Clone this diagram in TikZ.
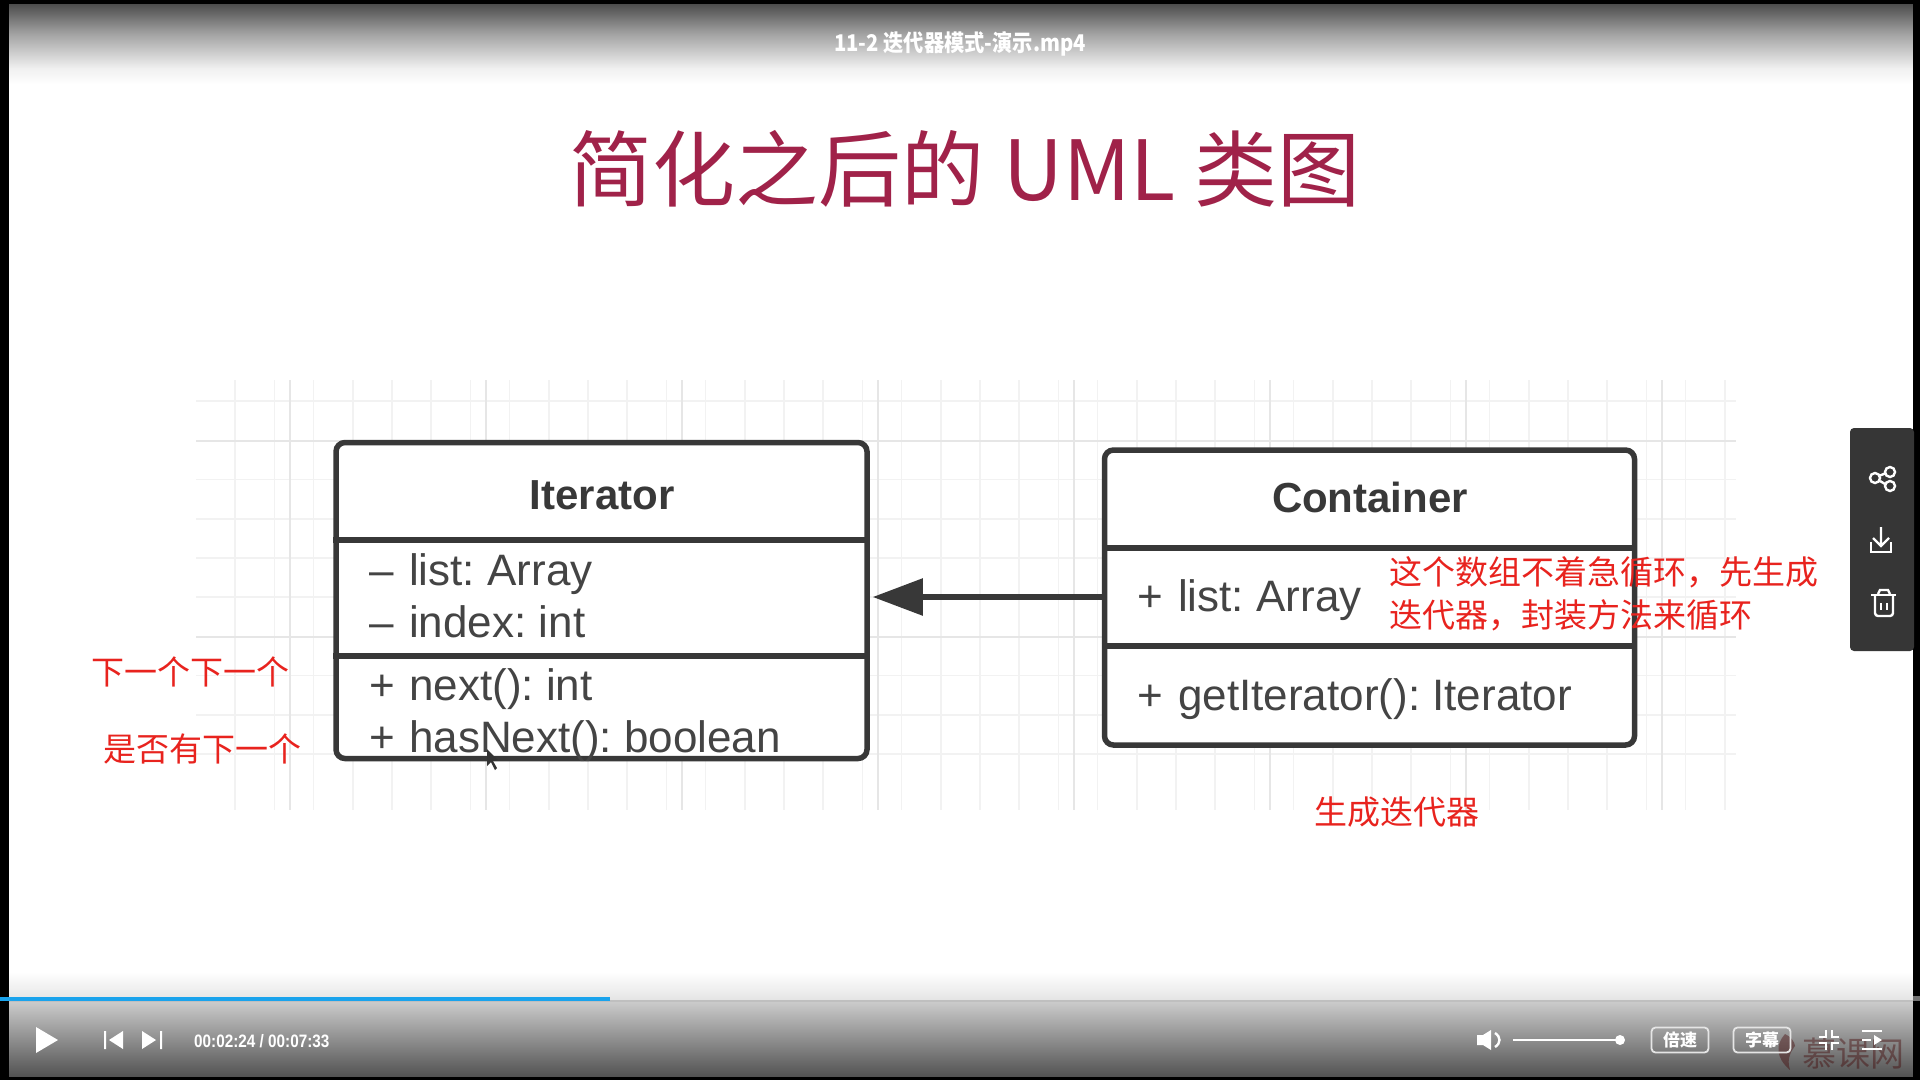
\documentclass[tikz,border=0pt]{standalone}
\usepackage{fontspec}
\usepackage{graphicx}
\usetikzlibrary{arrows.meta}
\setmainfont{Liberation Sans}
\newfontfamily\cjk{Noto Sans CJK SC}
\frenchspacing
\definecolor{titlered}{HTML}{A02249}
\definecolor{linegray}{HTML}{383838}
\definecolor{txtgray}{HTML}{444444}
\definecolor{notered}{HTML}{E8231E}
\definecolor{minorgrid}{HTML}{F2F2F2}
\definecolor{majorgrid}{HTML}{E6E6E6}
\definecolor{panel}{HTML}{363636}
\definecolor{progress}{HTML}{1AA3EC}
\tikzset{
  x=1pt,y=-1pt,
  umlbox/.style={draw=linegray,line width=5.5pt,rounded corners=9pt,fill=white,inner sep=0pt},
  divider/.style={draw=linegray,line width=5.5pt},
  member/.style={anchor=base west,inner sep=0pt,text=txtgray,font=\fontsize{44}{50}\selectfont},
  classname/.style={anchor=base,inner sep=0pt,text=linegray,font=\fontsize{42}{50}\selectfont\bfseries},
  note/.style={anchor=west,inner sep=0pt,text=notered,font=\cjk\fontsize{33}{40}\selectfont},
  ctrl/.style={anchor=center,inner sep=0pt,text=white},
  iconline/.style={draw=white,line width=2.4pt},
  iconfill/.style={fill=white,draw=none},
  pill/.style={draw=white!90!black,line width=1.8pt,rounded corners=4pt,inner sep=0pt,minimum width=57pt,minimum height=25pt,text=white,font=\cjk\fontsize{17}{20}\selectfont\bfseries},
}
\begin{document}
\begin{tikzpicture}
\useasboundingbox (0,0) rectangle (1920,1080);
\fill[white] (0,0) rectangle (1920,1080);
% player gradients
\shade[top color=black!70,bottom color=black!36] (0,4) rectangle (1920,34);
\shade[top color=black!36,bottom color=black!6] (0,34) rectangle (1920,68);
\shade[top color=black!6,bottom color=white] (0,68) rectangle (1920,84);
\shade[top color=white,bottom color=black!11] (0,972) rectangle (1920,1001);
\shade[top color=black!20,bottom color=black!68] (0,1001) rectangle (1920,1077);
\fill[black] (0,0) rectangle (1920,4);
\fill[black] (0,1077) rectangle (1920,1080);
\fill[black] (0,0) rectangle (9,1080);
\fill[black] (1913,0) rectangle (1920,1080);
\fill[black!55] (1913,996) rectangle (1920,1001);
% grid
\foreach \gx in {1,...,39}{\draw[minorgrid,line width=1.5pt] ({196+39.2*(\gx)},380) -- ({196+39.2*(\gx)},810);}
\foreach \gy in {1,...,10}{\draw[minorgrid,line width=1.5pt] (196,{362+39.2*(\gy)}) -- (1736,{362+39.2*(\gy)});}
\foreach \gx in {290,486,682,878,1074,1270,1466,1662}{\draw[majorgrid,line width=2.5pt] (\gx,380) -- (\gx,810);}
\foreach \gy in {441,637}{\draw[majorgrid,line width=2.5pt] (196,\gy) -- (1736,\gy);}
% title
\node[inner sep=0pt,text=titlered,font=\cjk\fontsize{83}{90}\selectfont] (title) at (965,169) {简化之后的 UML 类图};
\node[ctrl,font=\cjk\fontsize{23}{28}\selectfont\bfseries] (filename) at (960,44) {\scalebox{.88}[1]{11-2 迭代器模式-演示.mp4}};
% Iterator
\node[umlbox,minimum width=531pt,minimum height=316pt] (iter) at (601.5,600.5) {};
\draw[divider] (iter.west |- 0,540) -- (iter.east |- 0,540);
\draw[divider] (iter.west |- 0,656) -- (iter.east |- 0,656);
\node[classname] (itername) at (602,509) {Iterator};
\node[member] (m1s) at (369,585) {–};
\node[member] (m1) at (409,585) {list: Array};
\node[member] (m2s) at (369,637) {–};
\node[member] (m2) at (409,637) {index: int};
\node[member] (m3s) at (369,700) {+};
\node[member] (m3) at (409,700) {next(): int};
\node[member] (m4s) at (369,752) {+};
\node[member] (m4) at (409,752) {hasNext(): boolean};
% Container
\node[umlbox,minimum width=530pt,minimum height=295pt] (cont) at (1369.5,597.5) {};
\draw[divider] (cont.west |- 0,548) -- (cont.east |- 0,548);
\draw[divider] (cont.west |- 0,646) -- (cont.east |- 0,646);
\node[classname] (contname) at (1370,512) {Container};
\node[member] (c1s) at (1137,611) {+};
\node[member] (c1) at (1178,611) {list: Array};
\node[member] (c2s) at (1137,710) {+};
\node[member] (c2) at (1178,710) {getIterator(): Iterator};
% association
\draw[draw=linegray,line width=5.5pt,shorten >=3pt,-{Stealth[length=50pt,width=36pt,inset=0pt]}] (cont.west |- 0,597) -- (iter.east |- 0,597);
% cursor
\fill[black!80] (487,749) -- (487,766) -- (491,762) -- (495,770) -- (497,768) -- (493,761) -- (498,760) -- cycle;
% notes
\node[note] (n1) at (91,672) {下一个下一个};
\node[note] (n2) at (103,749) {是否有下一个};
\node[note] (n3) at (1314,812) {生成迭代器};
\node[note] (n4) at (1389,572) {这个数组不着急循环，先生成};
\node[note] (n5) at (1389,615) {迭代器，封装方法来循环};
% side panel
\fill[panel,rounded corners=4pt] (1850,428) rectangle (1914,651);
\draw[iconline] (1890,472) circle (5pt) (1875,478) circle (5pt) (1890,486) circle (5pt);
\draw[iconline] (1880,475.5) -- (1885,473.5) (1880,481) -- (1885,484);
\draw[iconline] (1881,527) -- (1881,546) (1873,538) -- (1881,546) -- (1889,538);
\draw[iconline] (1871,542) -- (1871,552) -- (1891,552) -- (1891,542);
\draw[iconline,rounded corners=3pt] (1875,596) -- (1875,616) -- (1893,616) -- (1893,596);
\draw[iconline] (1871,595) -- (1896,595);
\draw[iconline] (1878,594) -- (1880,590) -- (1888,590) -- (1890,594);
\draw[iconline] (1881,603) -- (1881,610) (1887,603) -- (1887,610);
% progress
\draw[draw=white!75!black,line width=1.5pt] (9,1001) -- (1913,1001);
\fill[progress] (0,997) rectangle (610,1001);
\fill[iconfill] (36,1027) -- (58,1040) -- (36,1053) -- cycle;
\fill[iconfill] (104,1031) rectangle (106,1049) (123,1031) -- (123,1049) -- (109,1040) -- cycle;
\fill[iconfill] (160,1031) rectangle (162,1049) (142,1031) -- (142,1049) -- (156,1040) -- cycle;
\node[ctrl,anchor=west,font=\fontsize{18}{22}\selectfont\bfseries] (time) at (194,1041) {\scalebox{.85}[1]{00:02:24 / 00:07:33}};
% volume
\fill[iconfill] (1477,1035) -- (1483,1035) -- (1491,1030) -- (1491,1050) -- (1483,1045) -- (1477,1045) -- cycle;
\draw[iconline] (1495,1033) .. controls (1501,1037) and (1501,1043) .. (1495,1047);
\draw[draw=white,line width=2.4pt] (1513,1040) -- (1620,1040);
\fill[iconfill] (1620,1040) circle (5pt);
\node[pill] (speed) at (1680,1040) {倍速};
% watermark
\fill[red!25!black,opacity=.4] (1785,1034) .. controls (1775,1045) and (1776,1058) .. (1790,1070) .. controls (1786,1058) and (1792,1050) .. (1795,1046) .. controls (1795,1042) and (1790,1036) .. (1785,1034) -- cycle;
\node[inner sep=0pt,text=red!25!black,opacity=.4,font=\cjk\fontsize{34}{40}\selectfont] (mark) at (1853,1054) {慕课网};
\node[pill] (subs) at (1762,1040) {字幕};
% exit fullscreen
\draw[iconline] (1819,1037) -- (1826,1037) -- (1826,1030);
\draw[iconline] (1839,1037) -- (1832,1037) -- (1832,1030);
\draw[iconline] (1819,1043) -- (1826,1043) -- (1826,1050);
\draw[iconline] (1839,1043) -- (1832,1043) -- (1832,1050);
% list
\draw[iconline] (1862,1031) -- (1882,1031) (1862,1040) -- (1871,1040) (1862,1049) -- (1882,1049);
\fill[iconfill] (1874,1035) -- (1882,1040) -- (1874,1045) -- cycle;
\end{tikzpicture}
\end{document}
